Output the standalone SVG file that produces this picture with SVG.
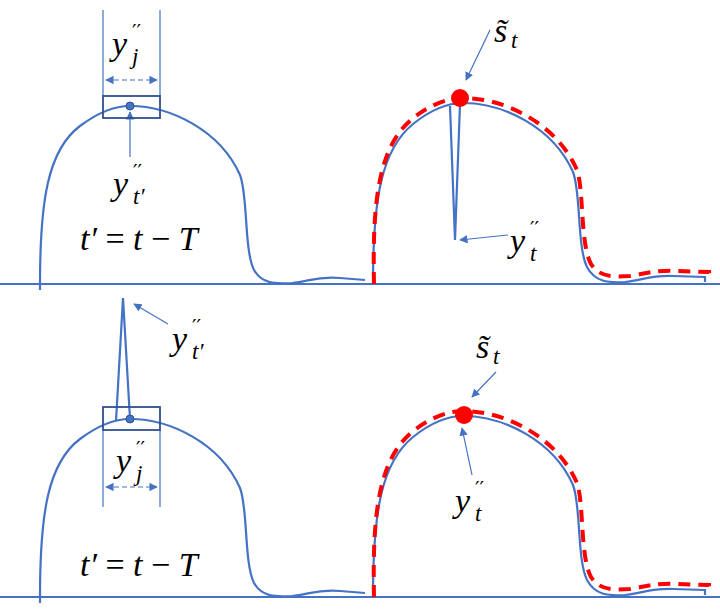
<svg xmlns="http://www.w3.org/2000/svg" width="720" height="609" viewBox="0 0 720 609">
<style>
.c{fill:none;stroke:#4472C4;stroke-width:2.2}
.thin{fill:none;stroke:#4472C4;stroke-width:1.2}
.red{fill:none;stroke:#FF0000;stroke-width:4;stroke-dasharray:12,8}
.box{fill:none;stroke:#2F4F8F;stroke-width:1.8}
.m{font-family:"Liberation Serif",serif;font-style:italic;font-size:34px;fill:#000}
.p{font-family:"DejaVu Sans",sans-serif;font-size:20px;fill:#000}
.s{font-family:"Liberation Serif",serif;font-style:italic;font-size:23px;fill:#000}
</style>
<defs>
<marker id="ah" viewBox="0 0 10 10" refX="9" refY="5" markerWidth="7" markerHeight="7" orient="auto-start-reverse"><path d="M0,0L10,5L0,10z" fill="#4472C4"/></marker>
<path id="humpL" d="M40,290 L40,284 C40,200 48,150 80,126 C100,111 118,106 130,106 C170,106 220,130 240,175 C248,195 244,250 254,270 C262,284 275,284 292,283 C310,281 318,276 340,278 L365,280"/>
<path id="humpR" d="M373,284 C373,200 381,150 413,124 C433,108 450,103 463,103 C503,103 553,127 573,172 C581,192 577,247 587,267 C595,282 608,283 625,282 C643,280 651,275 673,276 L705,277 L705,282"/>
<path id="redR" d="M374,284 C372,196 380,146 412,119 C432,103 450,98 463,98 C505,98 557,124 577,170 C584,190 580,244 591,264 C599,277 612,277 630,276 C648,273 656,270 678,271 L709,272 L709,280"/>
</defs>
<g id="connectors">
<line x1="0" y1="284" x2="720" y2="284" class="c"/>
<line x1="0" y1="597" x2="720" y2="597" class="c"/>
<line x1="103" y1="10" x2="103" y2="96" class="thin"/>
<line x1="160" y1="10" x2="160" y2="96" class="thin"/>
<line x1="106" y1="80" x2="157" y2="80" class="thin" stroke-dasharray="5,3" marker-start="url(#ah)" marker-end="url(#ah)"/>
<line x1="130" y1="157" x2="130" y2="112" class="thin" marker-end="url(#ah)"/>
<line x1="490" y1="30" x2="466" y2="80" class="thin" marker-end="url(#ah)"/>
<line x1="508" y1="235" x2="460" y2="240" class="thin" marker-end="url(#ah)"/>
<line x1="103" y1="430" x2="103" y2="507" class="thin"/>
<line x1="160" y1="430" x2="160" y2="507" class="thin"/>
<line x1="106" y1="487" x2="157" y2="487" class="thin" stroke-dasharray="5,3" marker-start="url(#ah)" marker-end="url(#ah)"/>
<line x1="168" y1="324" x2="134" y2="304" class="thin" marker-end="url(#ah)"/>
<line x1="496" y1="372" x2="472" y2="397" class="thin" marker-end="url(#ah)"/>
<line x1="472" y1="475" x2="462" y2="428" class="thin" marker-end="url(#ah)"/>
</g>
<g id="top-left">
<use href="#humpL" class="c"/>
<rect x="103" y="96" width="57" height="22" class="box"/>
<circle cx="130" cy="106" r="4" fill="#4472C4" stroke="#2F4F8F"/>
<text x="112" y="55" class="m">y</text><text x="132" y="38" class="p">′′</text><text x="132" y="64" class="s">j</text>
<text x="113" y="195" class="m">y</text><text x="133" y="178" class="p">′′</text><text x="133" y="204" class="s">t′</text>
<text x="80" y="250" class="m">t′ <tspan font-style="normal">=</tspan> t <tspan font-style="normal">−</tspan> T</text>
</g>
<g id="top-right">
<use href="#humpR" class="c"/>
<use href="#redR" class="red"/>
<path d="M450,106 L455,240 L460,104" class="c"/>
<circle cx="460" cy="98" r="9" fill="#FF0000"/>
<text x="494" y="42" class="m">s̃</text><text x="511" y="48" class="s">t</text>
<text x="510" y="252" class="m">y</text><text x="530" y="235" class="p">′′</text><text x="530" y="261" class="s">t</text>
</g>
<g id="bottom-left">
<use href="#humpL" class="c" transform="translate(0,313)"/>
<path d="M116,421 L123,298 L130,419" class="c"/>
<rect x="103" y="407" width="57" height="23" class="box"/>
<circle cx="130" cy="419" r="4" fill="#4472C4" stroke="#2F4F8F"/>
<text x="172" y="350" class="m">y</text><text x="192" y="333" class="p">′′</text><text x="192" y="359" class="s">t′</text>
<text x="116" y="472" class="m">y</text><text x="136" y="455" class="p">′′</text><text x="136" y="481" class="s">j</text>
<text x="80" y="576" class="m">t′ <tspan font-style="normal">=</tspan> t <tspan font-style="normal">−</tspan> T</text>
</g>
<g id="bottom-right">
<use href="#humpR" class="c" transform="translate(0,313)"/>
<use href="#redR" class="red" transform="translate(0,313)"/>
<circle cx="464" cy="415" r="9" fill="#FF0000"/>
<text x="476" y="358" class="m">s̃</text><text x="493" y="364" class="s">t</text>
<text x="455" y="512" class="m">y</text><text x="475" y="495" class="p">′′</text><text x="475" y="521" class="s">t</text>
</g>
</svg>
